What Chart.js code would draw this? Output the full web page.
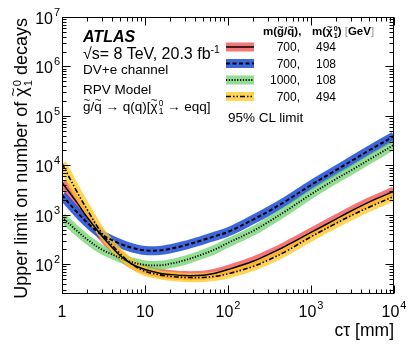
<!DOCTYPE html>
<html><head><meta charset="utf-8">
<script src="https://cdn.jsdelivr.net/npm/chart.js@4/dist/chart.umd.min.js"></script>
<style>
html,body{margin:0;padding:0;background:#fff;}
#wrap{position:relative;width:415px;height:351px;overflow:hidden;font-family:'Liberation Sans',Arial,Helvetica,sans-serif;color:#000;}
#c{position:absolute;left:0;top:0;}
.t{position:absolute;white-space:nowrap;line-height:1;}
.tl{position:relative;display:inline-block;}
.tl::after{content:'~';position:absolute;left:0;right:0;text-align:center;top:-0.45em;font-size:0.85em;font-weight:normal;}
.ss{display:inline-block;vertical-align:-0.38em;font-size:0.62em;line-height:0.95;text-align:left;margin-left:1px;}
.ss span{display:block;}
.sup{font-size:0.65em;vertical-align:0.6em;}
.gb{color:#999;font-weight:normal;}
</style></head>
<body>
<div id="wrap">
<canvas id="c" width="415" height="351"></canvas>

<div class="t" style="left:12px;top:299px;width:281px;text-align:right;transform-origin:0 0;transform:rotate(-90deg);font-size:18px;">Upper limit on number of <span class="tl">χ</span><span class="ss"><span>0</span><span>1</span></span> decays</div>
<div class="t" style="right:21px;top:322px;font-size:17.5px;">cτ [mm]</div>

<div class="t" style="left:83px;top:29px;font-size:16px;font-weight:bold;font-style:italic;">ATLAS</div>
<div class="t" style="left:83px;top:45px;font-size:16px;">√s= 8 TeV, 20.3 fb<span class="sup">-1</span></div>
<div class="t" style="left:83px;top:63px;font-size:13.5px;">DV+e channel</div>
<div class="t" style="left:83px;top:83px;font-size:13.5px;">RPV Model</div>
<div class="t" style="left:83px;top:100px;font-size:13.5px;"><span class="tl">g</span>/<span class="tl">q</span> → q(q)[<span class="tl">χ</span><span class="ss"><span>0</span><span>1</span></span> → eqq]</div>

<div class="t" style="left:263px;top:26px;font-size:11.5px;font-weight:bold;">m(<span class="tl">g</span>/<span class="tl">q</span>),</div>
<div class="t" style="left:312px;top:26px;font-size:11.5px;font-weight:bold;">m(<span class="tl">χ</span><span class="ss"><span>0</span><span>1</span></span>) <span class="gb">[</span>GeV<span class="gb">]</span></div>

<div class="t" style="right:115px;top:41px;font-size:12px;">700,</div>
<div class="t" style="left:316px;top:41px;font-size:12px;">494</div>
<div class="t" style="right:115px;top:57.5px;font-size:12px;">700,</div>
<div class="t" style="left:316px;top:57.5px;font-size:12px;">108</div>
<div class="t" style="right:115px;top:74px;font-size:12px;">1000,</div>
<div class="t" style="left:316px;top:74px;font-size:12px;">108</div>
<div class="t" style="right:115px;top:90.5px;font-size:12px;">700,</div>
<div class="t" style="left:316px;top:90.5px;font-size:12px;">494</div>
<div class="t" style="left:228px;top:111px;font-size:13.5px;">95% CL limit</div>
</div>

<script>
// ---- data ----
const ctMM = [1, 1.5, 2, 3, 5, 7, 10, 15, 20, 30, 50, 70, 100, 200, 300, 500, 1000, 2000, 3000, 5000, 10000];
const limitRed700_494    = [4500, 1800, 900, 380, 150, 100, 78, 66, 62, 59, 60, 66, 78, 115, 155, 235, 440, 820, 1180, 1800, 3000];
const limitBlue700_108   = [2500, 1150, 700, 400, 260, 215, 190, 190, 205, 240, 310, 370, 450, 800, 1150, 1900, 4000, 8000, 12000, 20000, 39000];
const limitGreen1000_108 = [900, 480, 320, 200, 135, 110, 97, 95, 102, 120, 160, 200, 270, 470, 700, 1200, 2600, 5300, 7800, 13000, 26000];
const limitYellow700_494 = [11000, 3000, 1300, 430, 165, 100, 72, 61, 57, 54, 54, 57, 64, 90, 120, 182, 360, 670, 950, 1420, 2350];
const xMajorTicks = [1, 10, 100, 1000, 10000];
const yMajorTicks = [1e2, 1e3, 1e4, 1e5, 1e6, 1e7];

const FONT = "'Liberation Sans', Arial, Helvetica, sans-serif";
const pts = arr => ctMM.map((c, i) => ({x: c, y: arr[i]}));

const series = [
  {vals: limitRed700_494,    band: 'rgba(242,80,80,0.78)',  dash: [],                    lw: 1.5},
  {vals: limitBlue700_108,   band: 'rgba(40,85,215,0.9)',   dash: [4, 2.5],              lw: 2},
  {vals: limitGreen1000_108, band: 'rgba(110,210,110,0.75)', dash: [1.2, 1.6],           lw: 1.8},
  {vals: limitYellow700_494, band: 'rgba(255,200,40,0.78)', dash: [5, 2, 1.5, 2, 1.5, 2], lw: 1.6}
];

const datasets = [];
series.forEach((s, i) => {
  datasets.push({data: pts(s.vals), borderColor: s.band, borderWidth: 9, pointRadius: 0,
    tension: 0.35, clip: 0, order: 20 - i, borderCapStyle: 'butt'});
});
series.forEach((s, i) => {
  datasets.push({data: pts(s.vals), borderColor: '#000', borderWidth: s.lw, borderDash: s.dash, pointRadius: 0,
    tension: 0.35, clip: 0, order: 5 - i, borderCapStyle: 'butt'});
});

const atlasAxes = {
  id: 'atlasAxes',
  afterDraw(chart) {
    const {ctx, chartArea: a, scales: {x, y}} = chart;
    ctx.save();
    ctx.strokeStyle = '#000';
    ctx.lineWidth = 1;
    const L = Math.round(a.left) + 0.5, R = Math.round(a.right) - 0.5;
    const T = Math.round(a.top) + 0.5, B = Math.round(a.bottom) - 0.5;
    const seg = (x1, y1, x2, y2) => { ctx.beginPath(); ctx.moveTo(x1, y1); ctx.lineTo(x2, y2); ctx.stroke(); };
    ctx.strokeRect(L, T, R - L, B - T);
    // x ticks
    for (let e = 0; e < xMajorTicks.length; e++) {
      for (let m = 1; m < 10; m++) {
        const v = m * xMajorTicks[e];
        if (v > x.max) break;
        const px = Math.round(x.getPixelForValue(v)) + 0.5;
        const len = m === 1 ? 8 : 4;
        seg(px, B, px, B - len);
        seg(px, T, px, T + len);
      }
    }
    // y ticks
    const yDecades = [10, ...yMajorTicks];
    for (const d of yDecades) {
      for (let m = 1; m < 10; m++) {
        const v = m * d;
        if (v < y.min || v > y.max) continue;
        const py = Math.round(y.getPixelForValue(v)) + 0.5;
        const len = m === 1 ? 8 : 4;
        seg(L, py, L + len, py);
        seg(R, py, R - len, py);
      }
    }
    // labels
    ctx.fillStyle = '#000';
    ctx.textBaseline = 'alphabetic';
    const big = '16px ' + FONT, small = '11px ' + FONT;
    for (const v of yMajorTicks) {
      const py = y.getPixelForValue(v);
      const ex = String(Math.round(Math.log10(v)));
      ctx.font = big; ctx.textAlign = 'right';
      ctx.fillText('10', 53, py + 7);
      ctx.font = small; ctx.textAlign = 'left';
      ctx.fillText(ex, 54, py - 1);
    }
    for (const v of xMajorTicks) {
      const px = x.getPixelForValue(v);
      const ex = Math.round(Math.log10(v));
      const by = 317;
      if (ex <= 1) {
        ctx.font = big; ctx.textAlign = 'center';
        ctx.fillText(String(v), px, by);
      } else {
        ctx.font = big;
        const w1 = ctx.measureText('10').width;
        ctx.font = small;
        const w2 = ctx.measureText(String(ex)).width;
        const x0 = px - (w1 + w2 + 1) / 2;
        ctx.textAlign = 'left';
        ctx.font = big; ctx.fillText('10', x0, by);
        ctx.font = small; ctx.fillText(String(ex), x0 + w1 + 1, by - 8);
      }
    }
    // legend swatches
    const rowsY = [47, 63.5, 80, 96.5];
    series.forEach((s, i) => {
      const cy = rowsY[i];
      ctx.fillStyle = '#fff';
      ctx.fillRect(226, cy - 4.5, 28, 9);
      ctx.fillStyle = s.band;
      ctx.fillRect(226, cy - 4.5, 28, 9);
      ctx.setLineDash(s.dash);
      ctx.lineWidth = s.lw;
      seg(226, cy, 254, cy);
    });
    ctx.setLineDash([]);
    ctx.restore();
  }
};

new Chart(document.getElementById('c'), {
  type: 'line',
  data: {datasets},
  plugins: [atlasAxes],
  options: {
    responsive: false,
    animation: false,
    devicePixelRatio: 1,
    layout: {padding: {left: 0, top: 17, right: 21, bottom: 0}},
    plugins: {legend: {display: false}, tooltip: {enabled: false}},
    scales: {
      x: {type: 'logarithmic', min: 1, max: 10000,
          ticks: {display: false}, grid: {display: false}, border: {display: false},
          afterFit: s => { s.height = 57; }},
      y: {type: 'logarithmic', min: 25, max: 1e7,
          ticks: {display: false}, grid: {display: false}, border: {display: false},
          afterFit: s => { s.width = 62; }}
    }
  }
});
</script>
</body></html>
